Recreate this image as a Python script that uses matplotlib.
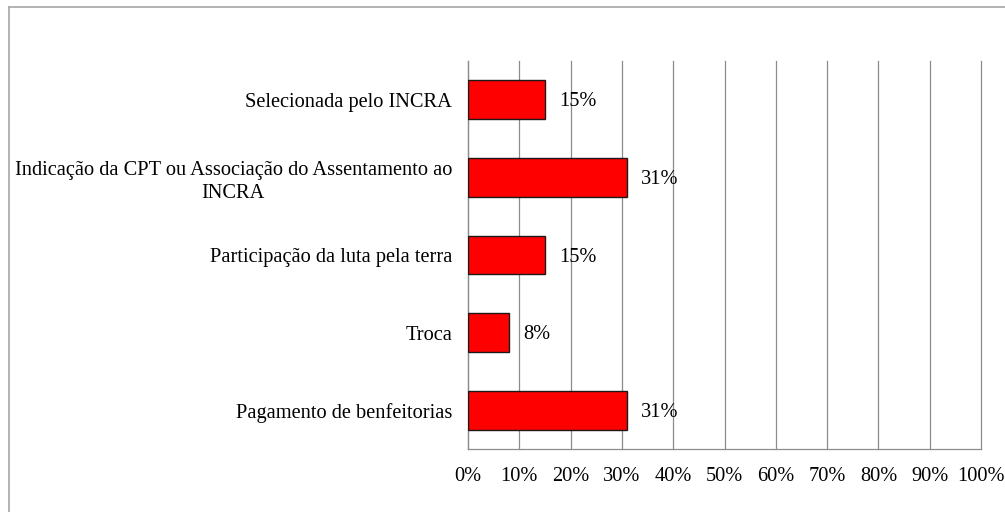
import matplotlib.pyplot as plt
from matplotlib.lines import Line2D

# categories listed top to bottom as in the chart
categories = [
    "Selecionada pelo INCRA",
    "Indicação da CPT ou Associação do Assentamento ao\nINCRA",
    "Participação da luta pela terra",
    "Troca",
    "Pagamento de benfeitorias",
]
shares = [15, 31, 15, 8, 31]
bar_labels = ["15%", "31%", "15%", "8%", "31%"]
x_ticks = [0, 10, 20, 30, 40, 50, 60, 70, 80, 90, 100]
x_tick_labels = [f"{t}%" for t in x_ticks]

plt.rcParams['font.family'] = ['Liberation Serif', 'DejaVu Serif']
plt.rcParams['font.size'] = 14.7

fig = plt.figure(figsize=(10.05, 5.12), dpi=100, facecolor='white')
ax = fig.add_axes([468 / 1005, 1 - 449 / 512, 513 / 1005, 388 / 512])

ypos = list(range(len(categories)))
ax.barh(ypos, shares, height=0.5, color='#ff0000', edgecolor='#1a1a1a', linewidth=1.0, zorder=3)

for y, v, lab in zip(ypos, shares, bar_labels):
    ax.annotate(lab, xy=(v, y), xytext=(10, -1.5), textcoords='offset points',
                ha='left', va='center', fontsize=14.7, color='black', zorder=4)

ax.set_ylim(len(categories) - 0.5, -0.5)
ax.set_yticks(ypos)
ax.set_yticklabels(categories, ha='right', multialignment='center', linespacing=1.3)
ax.tick_params(axis='y', length=0, pad=11.5)

ax.set_xlim(0, 100)
ax.set_xticks(x_ticks)
ax.set_xticklabels(x_tick_labels)
ax.tick_params(axis='x', length=0, pad=13)

ax.grid(True, axis='x', color='#8c8c8c', linewidth=0.9, zorder=0)
ax.grid(False, axis='y')
ax.set_axisbelow(True)
for gl in ax.get_xgridlines():
    gl.set_clip_on(False)

for s in ['top', 'right']:
    ax.spines[s].set_visible(False)
ax.spines['bottom'].set_color('#8c8c8c')
ax.spines['left'].set_color('#8c8c8c')
ax.spines['bottom'].set_linewidth(0.9)
ax.spines['left'].set_linewidth(0.9)

# outer chart frame (only left and top edges fall inside the picture)
fig.add_artist(Line2D([9 / 1005, 9 / 1005], [0, 1 - 7 / 512], transform=fig.transFigure,
                      color='#a6a6a6', linewidth=1.2))
fig.add_artist(Line2D([9 / 1005, 1], [1 - 7 / 512, 1 - 7 / 512], transform=fig.transFigure,
                      color='#a6a6a6', linewidth=1.2))

plt.savefig('out.png', dpi=100, facecolor='white')
plt.close()
